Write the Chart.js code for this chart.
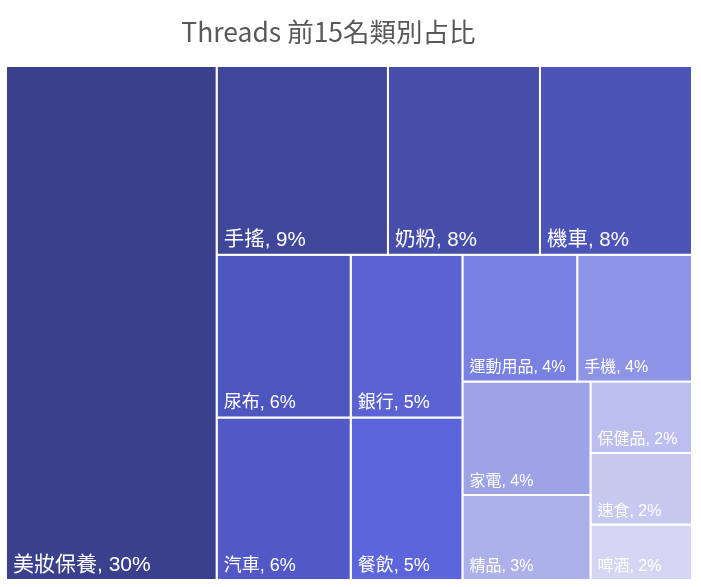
<!DOCTYPE html>
<html lang="zh-Hant">
  <head>
    <meta charset="UTF-8" />
    <title>Threads 前15名類別占比</title>
    <script src="https://cdn.jsdelivr.net/npm/chart.js"></script>
    <style>
      body {
        margin: 0;
        background: #ffffff;
      }
    </style>
  </head>
  <body>
    <canvas id="treemap" width="701" height="587"></canvas>

    <script>
      // 類別與占比 (%)
      const categories = ["美妝保養", "手搖", "奶粉", "機車", "尿布", "汽車", "銀行", "餐飲",
        "運動用品", "手機", "家電", "精品", "保健品", "速食", "啤酒"];
      const shares = [29.8, 8.9, 7.9, 7.9, 6.0, 6.0, 5.0, 5.0, 4.0, 4.0, 4.0, 3.0, 2.0, 2.0, 1.55];
      const colors = ["#3a408c", "#40479a", "#464ea9", "#4c54b8", "#4d56bf", "#5259c7",
        "#5a62d4", "#5d65dc", "#7880e1", "#8d93e5", "#9ea3e7", "#adb1e9", "#bbbeee",
        "#c7c9f0", "#d4d6f3"];
      const chartTitle = "Threads 前15名類別占比";

      const labelFont = '"Liberation Sans", "Noto Sans CJK TC", sans-serif';

      // squarified treemap, ratio < 1 favours closing a row a bit earlier
      function worst(row, side, unit, ratio) {
        const sum = row.reduce((a, b) => a + b, 0);
        const thick = (sum * unit) / side;
        let m = 0;
        row.forEach((v) => {
          const g = ((v * unit) / thick / thick) * ratio;
          m = Math.max(m, g, 1 / g);
        });
        return m;
      }

      function squarify(vals, w, h, ratio) {
        const total = vals.reduce((a, b) => a + b, 0);
        const unit = (w * h) / total;
        const out = [];
        let x = 0, y = 0, i = 0;
        while (i < vals.length) {
          const column = w >= h;
          const side = column ? h : w;
          const row = [vals[i]];
          let best = worst(row, side, unit, ratio);
          let j = i + 1;
          while (j < vals.length) {
            const next = worst(row.concat(vals[j]), side, unit, ratio);
            if (next > best) break;
            row.push(vals[j]);
            best = next;
            j++;
          }
          const sum = row.reduce((a, b) => a + b, 0);
          const thick = (sum * unit) / side;
          let off = 0;
          row.forEach((v) => {
            const len = (v * unit) / thick;
            if (column) out.push({ x0: x, y0: y + off, x1: x + thick, y1: y + off + len });
            else out.push({ x0: x + off, y0: y, x1: x + off + len, y1: y + thick });
            off += len;
          });
          if (column) { x += thick; w -= thick; } else { y += thick; h -= thick; }
          i = j;
        }
        return out;
      }

      let cells = [];

      const labelPlugin = {
        id: "cellLabels",
        afterDatasetsDraw(chart) {
          const { ctx, scales } = chart;
          ctx.save();
          ctx.fillStyle = "#ffffff";
          ctx.textAlign = "left";
          ctx.textBaseline = "alphabetic";
          cells.forEach((c, i) => {
            const left = scales.x.getPixelForValue(c.x0);
            const right = scales.x.getPixelForValue(c.x1);
            const top = scales.y.getPixelForValue(c.y0);
            const bottom = scales.y.getPixelForValue(c.y1);
            const size = Math.sqrt((right - left) * (bottom - top));
            const fs = size > 250 ? 21 : size > 160 ? 20.5 : size > 130 ? 18 : 16;
            ctx.font = fs + "px " + labelFont;
            ctx.fillText(categories[i] + ", " + Math.round(shares[i]) + "%", left + 7, bottom - 9);
          });
          ctx.restore();
        },
      };

      // Excel puts the title a little left of the page centre
      const titlePlugin = {
        id: "sheetTitle",
        afterDraw(chart) {
          const { ctx, chartArea } = chart;
          ctx.save();
          ctx.fillStyle = "#595959";
          ctx.font = '26.5px "Noto Sans CJK TC", sans-serif';
          ctx.textAlign = "center";
          ctx.textBaseline = "alphabetic";
          ctx.fillText(chartTitle, chartArea.left + chartArea.width * 0.47, 41.5);
          ctx.restore();
        },
      };

      const chart = new Chart(document.getElementById("treemap").getContext("2d"), {
        type: "line",
        data: { datasets: [] },
        options: {
          responsive: false,
          animation: false,
          events: [],
          layout: { padding: { left: 6, right: 9, top: 66, bottom: 7 } },
          plugins: {
            legend: { display: false },
            tooltip: { enabled: false },
            title: { display: false },
          },
          scales: {
            x: { type: "linear", display: false, min: 0, max: 1 },
            y: { type: "linear", display: false, min: 0, max: 1, reverse: true },
          },
        },
        plugins: [labelPlugin, titlePlugin],
      });

      // layout needs the real plot size, then each cell becomes a closed line
      const area = chart.chartArea;
      const W = area.right - area.left;
      const H = area.bottom - area.top;
      cells = squarify(shares, W, H, 0.9).map((r) => ({
        x0: r.x0 / W, x1: r.x1 / W, y0: r.y0 / H, y1: r.y1 / H,
      }));

      chart.data.datasets = cells.map((c, i) => ({
        label: categories[i],
        data: [
          { x: c.x0, y: c.y0 },
          { x: c.x1, y: c.y0 },
          { x: c.x1, y: c.y1 },
          { x: c.x0, y: c.y1 },
          { x: c.x0, y: c.y0 },
        ],
        fill: "shape",
        backgroundColor: colors[i],
        borderColor: "#ffffff",
        borderWidth: 2,
        borderJoinStyle: "miter",
        pointRadius: 0,
        tension: 0,
      }));
      chart.update();
    </script>
  </body>
</html>
